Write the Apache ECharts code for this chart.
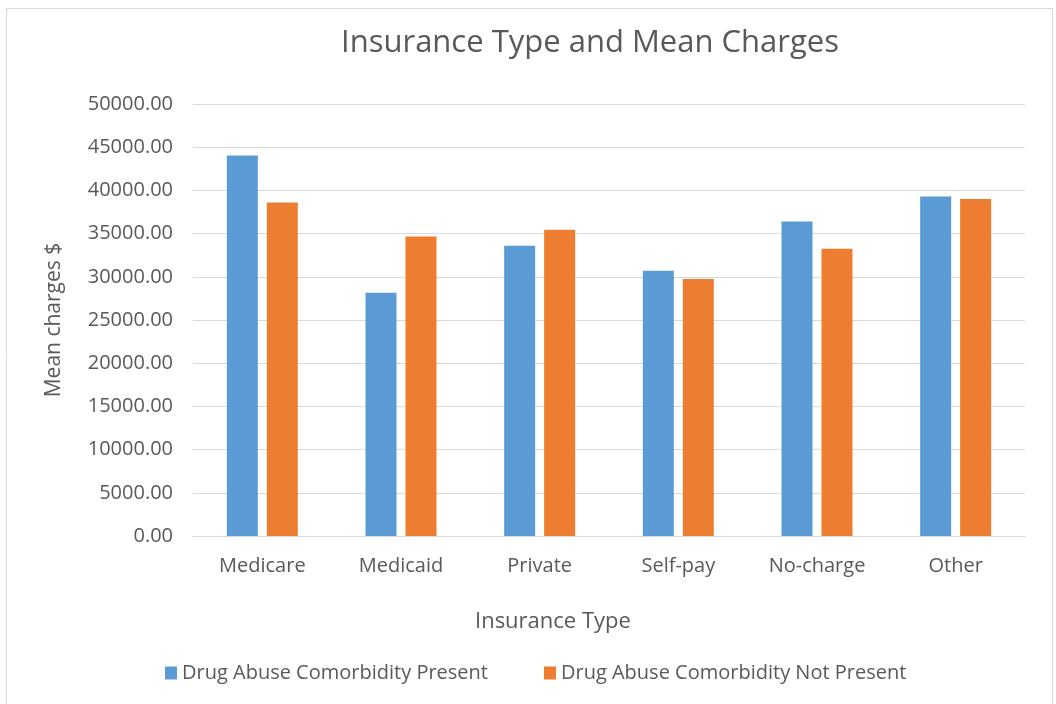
<!DOCTYPE html>
<html>
<head>
<meta charset="utf-8">
<style>
  html, body { margin: 0; padding: 0; background: #ffffff; }
  #chart { width: 1056px; height: 704px; }
</style>
<script src="https://cdn.jsdelivr.net/npm/echarts@6/dist/echarts.min.js"></script>
</head>
<body>
<div id="chart"></div>
<script>
// Insurance categories along the x axis
const categories = ['Medicare', 'Medicaid', 'Private', 'Self-pay', 'No-charge', 'Other'];

// Mean charges ($) per insurance type
const drugAbusePresent    = [44050, 28150, 33600, 30700, 36400, 39300];
const drugAbuseNotPresent = [38600, 34650, 35450, 29750, 33250, 39000];

const seriesNames = ['Drug Abuse Comorbidity Present', 'Drug Abuse Comorbidity Not Present'];

const FONT = '"Open Sans", "Noto Sans", sans-serif';
const TEXT = '#595959';

const chart = echarts.init(document.getElementById('chart'), null, { renderer: 'canvas' });

chart.setOption({
  backgroundColor: '#ffffff',
  animation: false,
  textStyle: { fontFamily: FONT, color: TEXT },
  title: {
    text: 'Insurance Type and Mean Charges',
    left: 585,
    top: 23,
    textAlign: 'center',
    textStyle: { fontFamily: FONT, fontSize: 31, fontWeight: 'normal', color: TEXT }
  },
  grid: { left: 193, right: 31, top: 104, bottom: 168, containLabel: false },
  legend: {
    data: seriesNames,
    left: 160,
    top: 658,
    itemWidth: 12,
    itemHeight: 13,
    itemGap: 56,
    icon: 'rect',
    textStyle: { fontFamily: FONT, fontSize: 20, color: TEXT }
  },
  xAxis: {
    type: 'category',
    data: categories,
    axisLine: { show: true, lineStyle: { color: '#d9d9d9', width: 1 } },
    axisTick: { show: false },
    axisLabel: { fontFamily: FONT, fontSize: 20, color: TEXT, margin: 20 }
  },
  yAxis: {
    type: 'value',
    min: 0,
    max: 50000,
    interval: 5000,
    name: 'Mean charges $',
    nameLocation: 'middle',
    nameGap: 128,
    nameTextStyle: { fontFamily: FONT, fontSize: 21, color: TEXT },
    axisLine: { show: false },
    axisTick: { show: false },
    axisLabel: {
      fontFamily: FONT, fontSize: 20, color: TEXT, margin: 20,
      formatter: v => v.toFixed(2)
    },
    splitLine: { lineStyle: { color: '#d9d9d9', width: 1 } }
  },
  series: [
    {
      name: seriesNames[0],
      type: 'bar',
      data: drugAbusePresent,
      barGap: '29%',
      barCategoryGap: '48.8%',
      itemStyle: { color: '#5b9bd5' }
    },
    {
      name: seriesNames[1],
      type: 'bar',
      data: drugAbuseNotPresent,
      barGap: '29%',
      barCategoryGap: '48.8%',
      itemStyle: { color: '#ed7d31' }
    }
  ],
  graphic: [
    {
      type: 'rect',
      shape: { x: 6.5, y: 8.5, width: 1046, height: 720 },
      style: { fill: 'none', stroke: '#d9d9d9', lineWidth: 1 },
      silent: true
    },
    {
      type: 'text',
      left: 475,
      top: 611,
      style: { text: 'Insurance Type', font: '22px ' + FONT, fill: TEXT }
    }
  ]
});
</script>
</body>
</html>
